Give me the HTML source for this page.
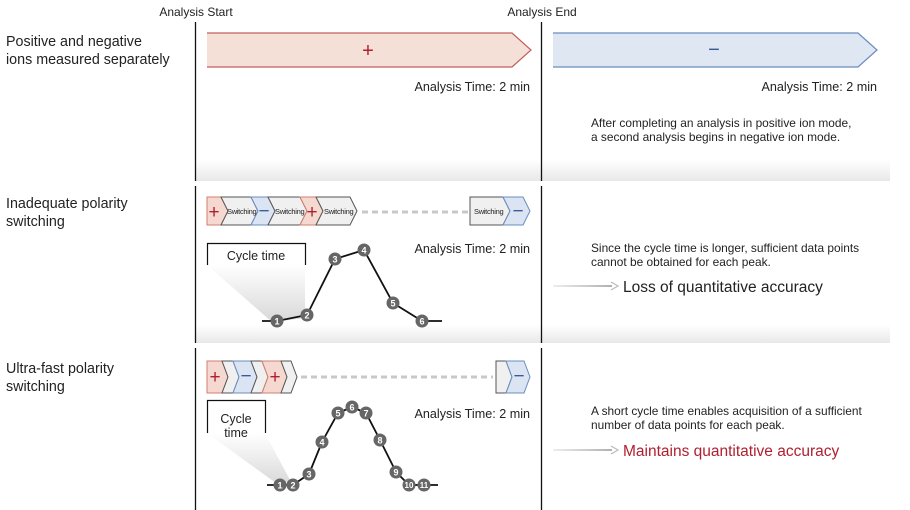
<!DOCTYPE html>
<html><head><meta charset="utf-8"><style>
html,body{margin:0;padding:0;background:#fff}
svg{display:block}
text{font-family:"Liberation Sans",sans-serif;fill:#222}
.n{fill:#fff;font-size:9px;font-weight:bold;text-anchor:middle}
</style></head><body>
<svg width="910" height="510" viewBox="0 0 910 510" xmlns="http://www.w3.org/2000/svg">
<defs>
<linearGradient id="band" x1="0" y1="0" x2="0" y2="1">
<stop offset="0" stop-color="#fff"/><stop offset="1" stop-color="#e8e8e8"/></linearGradient>
<linearGradient id="tri" x1="0" y1="0" x2="0" y2="1">
<stop offset="0" stop-color="#fff"/><stop offset="1" stop-color="#d8d8d8"/></linearGradient>
<linearGradient id="arr1" gradientUnits="userSpaceOnUse" x1="553" y1="0" x2="618" y2="0">
<stop offset="0" stop-color="#eee"/><stop offset="1" stop-color="#aaa"/></linearGradient>
</defs>
<rect x="195" y="160" width="695" height="21" fill="url(#band)"/>
<rect x="195" y="325" width="695" height="18" fill="url(#band)"/>
<g stroke="#111" stroke-width="1.3">
<line x1="195.5" y1="22" x2="195.5" y2="181"/><line x1="195.5" y1="186" x2="195.5" y2="343"/><line x1="195.5" y1="348" x2="195.5" y2="510"/>
<line x1="541.5" y1="22" x2="541.5" y2="181"/><line x1="541.5" y1="186" x2="541.5" y2="343"/><line x1="541.5" y1="348" x2="541.5" y2="510"/>
</g>
<text x="196" y="16" font-size="12" text-anchor="middle">Analysis Start</text>
<text x="542" y="16" font-size="12" text-anchor="middle">Analysis End</text>
<g font-size="14.3">
<text x="6" y="46">Positive and negative</text><text x="6" y="64">ions measured separately</text>
<text x="6" y="208">Inadequate polarity</text><text x="6" y="226">switching</text>
<text x="6" y="373">Ultra-fast polarity</text><text x="6" y="391">switching</text>
</g>
<path d="M207 33 H512 L531 50 L512 67 H207 Z" fill="#f5e0d8"/>
<path d="M207 33 H512 L531 50 L512 67 H207" fill="none" stroke="#c0605f" stroke-width="1.2"/>
<text x="368" y="57" font-size="20" text-anchor="middle" style="fill:#b02030">+</text>
<path d="M553 33 H858 L877 50 L858 67 H553 Z" fill="#dfe7f2"/>
<path d="M553 33 H858 L877 50 L858 67 H553" fill="none" stroke="#6a8cc0" stroke-width="1.2"/>
<text x="714" y="56" font-size="20" text-anchor="middle" style="fill:#3a5a9a">−</text>
<g font-size="12.6" text-anchor="end">
<text x="530" y="91">Analysis Time: 2 min</text>
<text x="877" y="91">Analysis Time: 2 min</text>
<text x="530" y="253">Analysis Time: 2 min</text>
<text x="530" y="418">Analysis Time: 2 min</text>
</g>
<g font-size="11.9">
<text x="591" y="127">After completing an analysis in positive ion mode,</text>
<text x="591" y="141">a second analysis begins in negative ion mode.</text>
<text x="591" y="252">Since the cycle time is longer, sufficient data points</text>
<text x="591" y="266">cannot be obtained for each peak.</text>
<text x="591" y="415">A short cycle time enables acquisition of a sufficient</text>
<text x="591" y="429">number of data points for each peak.</text>
</g>
<rect x="553" y="285" width="59" height="2" fill="url(#arr1)"/><path d="M611 282 L618 286 L611 290" fill="none" stroke="#bbb" stroke-width="1.2"/>
<text x="623" y="292" font-size="15.5">Loss of quantitative accuracy</text>
<rect x="553" y="449" width="59" height="2" fill="url(#arr1)"/><path d="M611 446 L618 450 L611 454" fill="none" stroke="#bbb" stroke-width="1.2"/>
<text x="623" y="456" font-size="15.5" style="fill:#b02030">Maintains quantitative accuracy</text>
<g stroke-width="1">
<path d="M207 197 H221 L228 211 L221 225 H207 Z" fill="#f5d8cf" stroke="#d08070"/>
<path d="M221 197 H251 L258 211 L251 225 H221 L228 211 Z" fill="#f0f0f0" stroke="#555"/>
<path d="M251 197 H268 L275 211 L268 225 H251 L258 211 Z" fill="#dbe4f2" stroke="#6a8cc0"/>
<path d="M268 197 H300 L307 211 L300 225 H268 L275 211 Z" fill="#f0f0f0" stroke="#555"/>
<path d="M300 197 H316 L323 211 L316 225 H300 L307 211 Z" fill="#f5d8cf" stroke="#d08070"/>
<path d="M316 197 H350 L357 211 L350 225 H316 L323 211 Z" fill="#f0f0f0" stroke="#555"/>
<path d="M470 197 H503 L510 211 L503 225 H470 Z" fill="#f0f0f0" stroke="#555"/>
<path d="M503 197 H523 L530 211 L523 225 H503 L510 211 Z" fill="#dbe4f2" stroke="#6a8cc0"/>
</g>
<line x1="362" y1="212" x2="468" y2="212" stroke="#c8c8c8" stroke-width="3" stroke-dasharray="6,4"/>
<g font-size="7.5" style="letter-spacing:-0.3px">
<text x="227" y="214">Switching</text><text x="275" y="214">Switching</text><text x="324" y="214">Switching</text><text x="474" y="214">Switching</text>
</g>
<text x="214" y="218" font-size="19" text-anchor="middle" style="fill:#b02030">+</text>
<text x="312" y="218" font-size="19" text-anchor="middle" style="fill:#b02030">+</text>
<text x="264" y="217" font-size="19" text-anchor="middle" style="fill:#3a5a9a">−</text>
<text x="518" y="217" font-size="19" text-anchor="middle" style="fill:#3a5a9a">−</text>
<path d="M207 265 H305 L305 318 L272 322 Z" fill="url(#tri)"/>
<path d="M207.5 265 V243.5 H305.5 V265" fill="none" stroke="#111" stroke-width="1.2"/>
<text x="256" y="260" font-size="12.5" text-anchor="middle">Cycle time</text>
<polyline points="262,321 277,321 307,315 335,259 364,250 393,303 422,321 442,321" fill="none" stroke="#111" stroke-width="1.8"/>
<g fill="#666">
<circle cx="277" cy="321" r="6.5"/><circle cx="307" cy="315" r="6.5"/><circle cx="335" cy="259" r="6.5"/><circle cx="364" cy="250" r="6.5"/><circle cx="393" cy="303" r="6.5"/><circle cx="422" cy="321" r="6.5"/>
</g>
<text class="n" x="277" y="324.5">1</text><text class="n" x="307" y="318.5">2</text><text class="n" x="335" y="262.5">3</text><text class="n" x="364" y="253.5">4</text><text class="n" x="393" y="306.5">5</text><text class="n" x="422" y="324.5">6</text>
<g stroke-width="1">
<path d="M207 361 H222 L228 377 L222 393 H207 Z" fill="#f5d8cf" stroke="#d08070"/>
<path d="M222 361 H233 L239 377 L233 393 H222 L228 377 Z" fill="#f0f0f0" stroke="#555"/>
<path d="M233 361 H251 L257 377 L251 393 H233 L239 377 Z" fill="#dbe4f2" stroke="#6a8cc0"/>
<path d="M251 361 H262 L268 377 L262 393 H251 L257 377 Z" fill="#f0f0f0" stroke="#555"/>
<path d="M262 361 H281 L287 377 L281 393 H262 L268 377 Z" fill="#f5d8cf" stroke="#d08070"/>
<path d="M281 361 H291 L297 377 L291 393 H281 L287 377 Z" fill="#f0f0f0" stroke="#555"/>
<path d="M496 361 H506 L512 377 L506 393 H496 Z" fill="#f0f0f0" stroke="#555"/>
<path d="M506 361 H524 L530 377 L524 393 H506 L512 377 Z" fill="#dbe4f2" stroke="#6a8cc0"/>
</g>
<line x1="301" y1="377" x2="493" y2="377" stroke="#c8c8c8" stroke-width="3" stroke-dasharray="6,4"/>
<text x="215" y="383" font-size="19" text-anchor="middle" style="fill:#b02030">+</text>
<text x="275" y="383" font-size="19" text-anchor="middle" style="fill:#b02030">+</text>
<text x="246" y="382" font-size="19" text-anchor="middle" style="fill:#3a5a9a">−</text>
<text x="519" y="382" font-size="19" text-anchor="middle" style="fill:#3a5a9a">−</text>
<path d="M207 433 H265 L290 480 L280 486 Z" fill="url(#tri)"/>
<path d="M207.5 433 V400.5 H265.5 V433" fill="none" stroke="#111" stroke-width="1.2"/>
<text x="236" y="423" font-size="12.5" text-anchor="middle">Cycle</text>
<text x="236" y="437" font-size="12.5" text-anchor="middle">time</text>
<polyline points="267,485 280,485 293,485 309,474 322,442 338,413 352,407 366,413 380,440 396,472 409,485 424,485 438,485" fill="none" stroke="#111" stroke-width="1.8"/>
<g fill="#666">
<circle cx="280" cy="485" r="6.5"/><circle cx="293" cy="485" r="6.5"/><circle cx="309" cy="474" r="6.5"/><circle cx="322" cy="442" r="6.5"/><circle cx="338" cy="413" r="6.5"/><circle cx="352" cy="407" r="6.5"/><circle cx="366" cy="413" r="6.5"/><circle cx="380" cy="440" r="6.5"/><circle cx="396" cy="472" r="6.5"/><circle cx="409" cy="485" r="6.5"/><circle cx="424" cy="485" r="6.5"/>
</g>
<text class="n" x="280" y="488.5">1</text><text class="n" x="293" y="488.5">2</text><text class="n" x="309" y="477.5">3</text><text class="n" x="322" y="445.5">4</text><text class="n" x="338" y="416.5">5</text><text class="n" x="352" y="410.5">6</text><text class="n" x="366" y="416.5">7</text><text class="n" x="380" y="443.5">8</text><text class="n" x="396" y="475.5">9</text><text class="n" x="409" y="488" style="font-size:8px">10</text><text class="n" x="424" y="488" style="font-size:8px">11</text>
</svg>
</body></html>
